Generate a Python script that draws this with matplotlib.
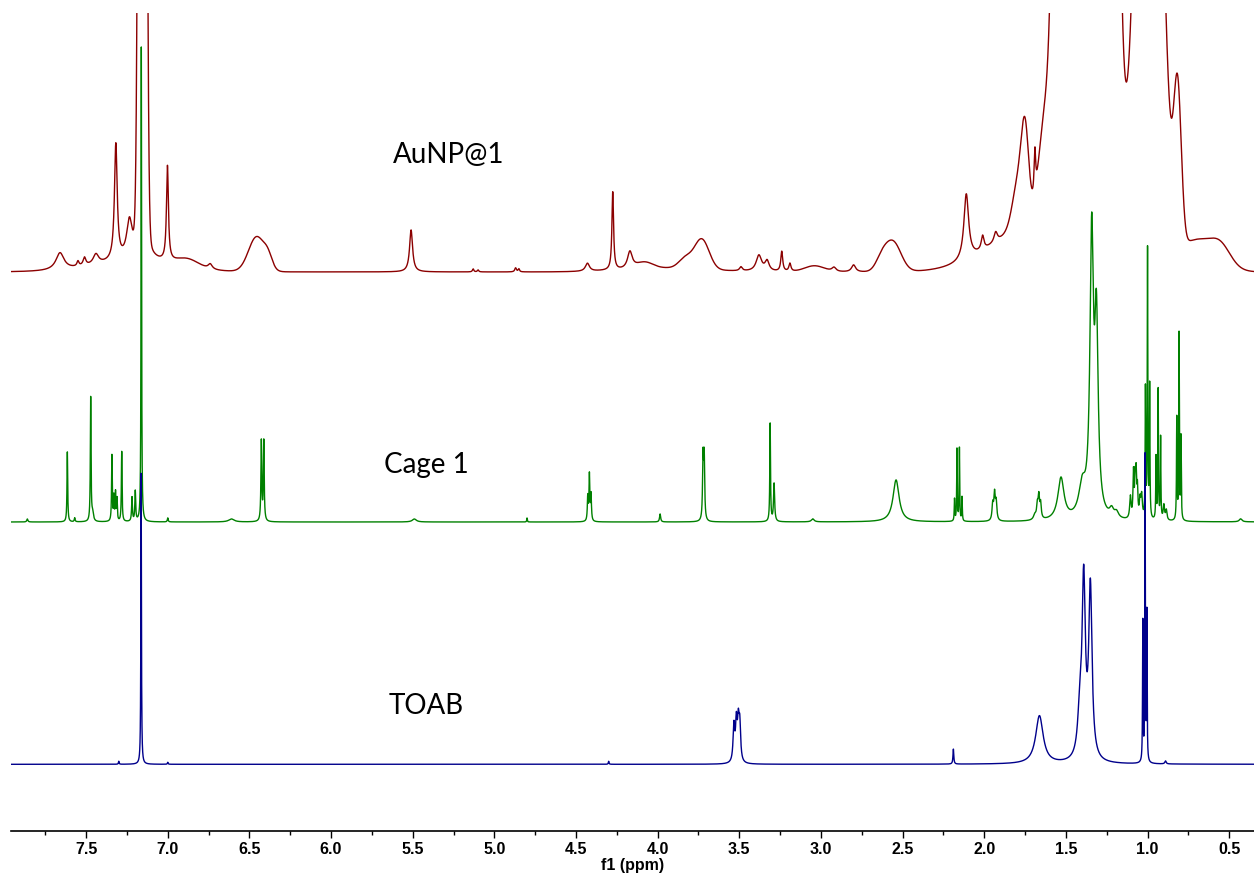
import numpy as np
import matplotlib.pyplot as plt
from matplotlib.ticker import MultipleLocator, FormatStrFormatter

# --- AuNP@1: sharp lines (ppm, height, FWHM) and broad envelopes (ppm, height, sigma)
aunp_ppm = [7.66, 7.55, 7.51, 7.44, 7.318, 7.235, 7.155, 7.002, 6.74, 5.51,
            5.13, 5.10, 4.87, 4.85, 4.43, 4.275, 4.17, 3.49, 3.38, 3.33,
            3.24, 3.19, 2.92, 2.80, 2.11, 2.01, 1.93, 1.69]
aunp_height = [17, 5, 8, 10, 116, 36, 60, 95, 5, 42,
               3, 2, 4, 3, 8, 78, 17, 4, 16, 10,
               20, 8, 4, 7, 66, 14, 10, 45]
aunp_fwhm = [0.06, 0.015, 0.02, 0.04, 0.02, 0.04, 0.06, 0.014, 0.03, 0.022,
             0.01, 0.01, 0.012, 0.01, 0.03, 0.012, 0.035, 0.02, 0.04, 0.03,
             0.014, 0.015, 0.03, 0.03, 0.035, 0.02, 0.025, 0.012]
aunp_broad_ppm = [7.155, 7.20, 6.88, 6.455, 6.385, 4.08, 3.95, 3.83, 3.73, 3.04,
                  2.63, 2.56, 1.85, 1.55, 1.79, 1.75, 1.64, 1.375, 1.00, 0.93,
                  0.816, 0.70, 0.55]
aunp_broad_height = [3000, 10, 8, 35, 10, 6, 4, 10, 30, 6,
                     10, 30, 22, 55, 45, 77, 60, 15800, 794, 100,
                     152, 32, 16]
aunp_broad_sigma = [0.015, 0.25, 0.07, 0.05, 0.025, 0.05, 0.25, 0.04, 0.045, 0.06,
                    0.035, 0.05, 0.22, 0.2, 0.035, 0.022, 0.03, 0.075, 0.065, 0.054,
                    0.023, 0.12, 0.06]

# --- Cage 1
cage_ppm = [7.86, 7.615, 7.57, 7.472, 7.46, 7.342, 7.330, 7.320, 7.311, 7.282,
            7.219, 7.199, 7.162, 7.00, 6.61, 6.427, 6.412, 5.49, 4.80, 4.428,
            4.418, 4.408, 3.985, 3.722, 3.715, 3.311, 3.287, 3.05, 2.540, 2.182,
            2.167, 2.152, 2.136, 1.948, 1.937, 1.927, 1.69, 1.675, 1.666, 1.655,
            1.53, 1.40, 1.342, 1.313, 1.22, 1.19, 1.105, 1.086, 1.076, 1.070,
            1.062, 1.046, 1.036, 1.013, 1.000, 0.987, 0.948, 0.935, 0.920, 0.90,
            0.885, 0.821, 0.807, 0.795, 0.43]
cage_height = [3, 70, 4, 124, 8, 66, 24, 28, 22, 70,
               24, 30, 475, 4, 3, 80, 80, 3, 4, 24,
               46, 26, 8, 62, 62, 98, 38, 3, 42, 22,
               72, 73, 24, 16, 26, 18, 5, 13, 22, 15,
               42, 30, 275, 186, 8, 6, 22, 45, 35, 40,
               28, 18, 22, 128, 268, 132, 62, 130, 82, 15,
               10, 102, 186, 82, 3]
cage_fwhm = [0.008, 0.005, 0.006, 0.005, 0.012, 0.005, 0.005, 0.005, 0.005, 0.005,
             0.006, 0.006, 0.004, 0.006, 0.04, 0.006, 0.006, 0.03, 0.004, 0.006,
             0.006, 0.006, 0.008, 0.007, 0.007, 0.005, 0.008, 0.02, 0.045, 0.004,
             0.004, 0.004, 0.004, 0.01, 0.01, 0.01, 0.02, 0.01, 0.01, 0.01,
             0.045, 0.05, 0.025, 0.025, 0.03, 0.03, 0.01, 0.007, 0.007, 0.007,
             0.007, 0.01, 0.01, 0.004, 0.004, 0.004, 0.004, 0.004, 0.004, 0.01,
             0.01, 0.004, 0.004, 0.004, 0.02]

# --- TOAB
toab_ppm = [7.30, 7.163, 7.00, 4.30, 3.533, 3.518, 3.506, 3.497, 2.189, 1.662,
            1.415, 1.391, 1.350, 1.029, 1.015, 1.004, 0.89]
toab_height = [3, 291, 2, 3, 36, 38, 36, 35, 15, 48,
               40, 175, 170, 140, 305, 148, 3]
toab_fwhm = [0.005, 0.004, 0.005, 0.005, 0.012, 0.012, 0.012, 0.012, 0.006, 0.055,
             0.03, 0.024, 0.024, 0.0036, 0.0036, 0.0036, 0.01]

labels = ["AuNP@1", "Cage 1", "TOAB"]


def spectrum(ppm, pos, height, fwhm, g_pos=(), g_height=(), g_sigma=()):
    y = np.zeros_like(ppm)
    for p, h, w in zip(pos, height, fwhm):
        y += h / (1 + ((ppm - p) / (w / 2)) ** 2)
    for p, h, s in zip(g_pos, g_height, g_sigma):
        y += h * np.exp(-0.5 * ((ppm - p) / s) ** 2)
    return y


ppm = np.linspace(7.96, 0.348, 40000)
traces = [
    (spectrum(ppm, aunp_ppm, aunp_height, aunp_fwhm,
              aunp_broad_ppm, aunp_broad_height, aunp_broad_sigma), 558.7, "#8b0000"),
    (spectrum(ppm, cage_ppm, cage_height, cage_fwhm), 308.7, "#008000"),
    (spectrum(ppm, toab_ppm, toab_height, toab_fwhm), 66.4, "#00008b"),
]

fig = plt.figure(figsize=(12.54, 8.77), dpi=100)
ax = fig.add_axes([11 / 1254, 1 - 830.7 / 877, 1 - 11 / 1254, (830.7 - 13) / 877])

for y, offset, color in traces:
    ax.plot(ppm, y + offset, color=color, lw=1.0)

ax.set_xlim(7.96, 0.348)
ax.set_ylim(0, 817.7)

label_font = ['Lato', 'DejaVu Sans']
ax.text(5.277, 675.7, labels[0], fontsize=20, family=label_font, ha='center', va='center')
ax.text(5.415, 365.7, labels[1], fontsize=20, family=label_font, ha='center', va='center')
ax.text(5.418, 124.7, labels[2], fontsize=20, family=label_font, ha='center', va='center')

for side in ['left', 'right', 'top']:
    ax.spines[side].set_visible(False)
ax.spines['bottom'].set_linewidth(1.2)
ax.yaxis.set_visible(False)

ax.xaxis.set_major_locator(MultipleLocator(0.5))
ax.xaxis.set_minor_locator(MultipleLocator(0.25))
ax.xaxis.set_major_formatter(FormatStrFormatter('%.1f'))
ax.tick_params(axis='x', which='major', length=5, width=1.0, pad=3)
ax.tick_params(axis='x', which='minor', length=3, width=1.0)

tick_font = ['Liberation Sans', 'DejaVu Sans']
for t in ax.get_xticklabels():
    t.set_family(tick_font)
    t.set_fontweight('bold')
    t.set_fontsize(11.5)
ax.set_xlabel("f1 (ppm)", family=tick_font, fontweight='bold', fontsize=11.5, labelpad=1)

fig.savefig("out.png", dpi=100)
